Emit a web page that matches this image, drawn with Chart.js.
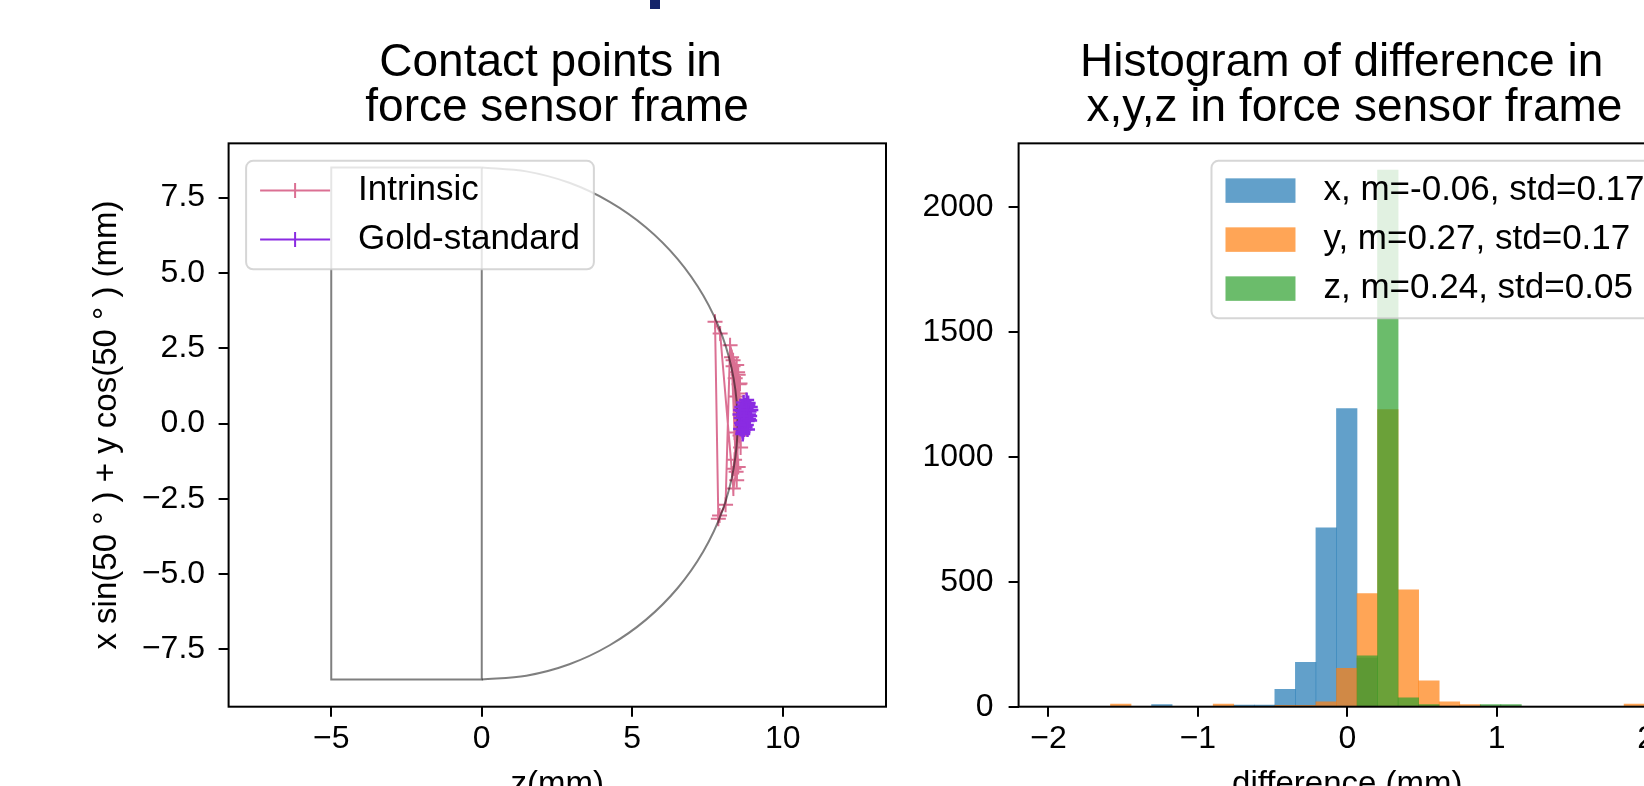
<!DOCTYPE html>
<html>
<head>
<meta charset="utf-8">
<title>Contact points and difference histogram</title>
<script src="https://cdn.jsdelivr.net/npm/chart.js@4.4.1/dist/chart.umd.min.js"></script>
<style>
  html, body { margin: 0; padding: 0; background: #fff; overflow: hidden; }
  #fig { position: relative; width: 1644px; height: 786px; overflow: hidden; background: #fff; }
  #contact { position: absolute; left: 0; top: 0; }
  #hist { position: absolute; left: 900px; top: 0; }
  #tab { position: absolute; left: 650px; top: 0; width: 10px; height: 9px; background: #14246a; }
</style>
</head>
<body>
<div id="fig">
  <canvas id="contact" width="1114" height="830"></canvas>
  <canvas id="hist" width="896" height="830"></canvas>
  <div id="tab"></div>
</div>
<script>
// sensor outline: flat part and the round tip (mm)
const rectZ = [0, -5, -5, 0, 0];
const rectY = [8.5, 8.5, -8.5, -8.5, 8.5];
const arcZ = [0, 1.48, 2.91, 4.25, 5.46, 6.51, 7.36, 7.99, 8.37, 8.5, 8.37, 7.99, 7.36, 6.51, 5.46, 4.25, 2.91, 1.48, 0];
const arcY = [8.5, 8.37, 7.99, 7.36, 6.51, 5.46, 4.25, 2.91, 1.48, 0, -1.48, -2.91, -4.25, -5.46, -6.51, -7.36, -7.99, -8.37, -8.5];

// contact points
const intrinsicZ = [7.86, 7.75, 7.92, 8.36, 8.45, 8.3, 8.55, 8.4, 8.6, 8.35, 8.58, 8.42, 8.62, 8.38, 8.56, 8.47,
  8.5, 8.6, 8.45, 8.63, 8.4, 8.52, 8.35, 8.58, 8.47, 8.52, 8.25, 8.1, 7.9];
const intrinsicY = [-3.16, 3.38, 2.99, -2.16, -1.6, 2.2, 1.3, -1.2, 0.6, 1.9, -0.4, 1.5, 0.1, -1.5, 1.0, -1.88,
  1.7, -0.8, 0.9, 0.35, -0.3, -1.44, 2.1, 1.33, 1.94, 1.62, 2.6, -2.7, -3.05];
const goldZ = [8.72, 8.78, 8.85, 8.8, 8.74, 8.66, 8.62, 8.7, 8.78, 8.88, 8.92, 8.86, 8.76, 8.66, 8.6, 8.68,
  8.75, 8.82, 8.9, 8.94, 8.84, 8.7, 8.64, 8.58, 8.63, 8.71, 8.79, 8.86, 8.8, 8.72, 8.67, 8.9, 8.83, 8.6];
const goldY = [0.35, 0.52, 0.68, 0.78, 0.6, 0.42, 0.18, 0.05, 0.22, 0.4, 0.55, 0.3, 0.12, -0.05, -0.18, -0.28,
  -0.12, 0.08, 0.25, 0.45, 0.62, 0.7, 0.55, 0.3, 0.02, -0.2, -0.05, 0.15, 0.45, 0.25, -0.35, 0.1, -0.2, 0.45];
const contactXTicks = [-5, 0, 5, 10];
const contactYTicks = [-7.5, -5, -2.5, 0, 2.5, 5, 7.5];

// histogram of differences (bin centres, mm)
const binCenters = [-1.51625, -1.37875, -1.24125, -1.10375, -0.96625, -0.82875, -0.69125, -0.55375, -0.41625,
  -0.27875, -0.14125, -0.00375, 0.13375, 0.27125, 0.40875, 0.54625, 0.68375, 0.82125, 0.95875, 1.09625,
  1.23375, 1.37125, 1.50875, 1.64625, 1.78375, 1.92125];
const countX = [0, 0, 8, 0, 0, 0, 6, 6, 70, 178, 717, 1194, 195, 0, 0, 0, 0, 0, 0, 0, 0, 0, 0, 0, 0, 0];
const countY = [10, 0, 0, 0, 0, 10, 0, 0, 5, 5, 20, 154, 453, 1190, 468, 104, 20, 8, 0, 0, 0, 0, 0, 0, 0, 10];
const countZ = [0, 0, 0, 0, 0, 0, 0, 0, 0, 0, 0, 0, 204, 2150, 36, 8, 0, 0, 8, 8, 0, 0, 0, 0, 0, 0];
const histLabels = ['x, m=-0.06, std=0.17', 'y, m=0.27, std=0.17', 'z, m=0.24, std=0.05'];
const histXTicks = [-2, -1, 0, 1, 2];
const histYTicks = [0, 500, 1000, 1500, 2000];

const FONT = "'Liberation Sans', Arial, Helvetica, sans-serif";
Chart.defaults.font.family = FONT;
Chart.defaults.color = '#000';

const minus = v => String(v).replace('-', '\u2212');
const pts = (xs, ys) => xs.map((x, i) => ({x: x, y: ys[i]}));

// black box round the plot area
const frame = {
  id: 'frame',
  afterDatasetsDraw(chart) {
    const {ctx, chartArea: a} = chart;
    ctx.save();
    ctx.strokeStyle = '#000';
    ctx.lineWidth = 2;
    ctx.strokeRect(a.left, a.top, a.right - a.left, a.bottom - a.top);
    ctx.restore();
  }
};

function roundBox(ctx, x, y, w, h, r) {
  ctx.beginPath();
  ctx.moveTo(x + r, y);
  ctx.arcTo(x + w, y, x + w, y + h, r);
  ctx.arcTo(x + w, y + h, x, y + h, r);
  ctx.arcTo(x, y + h, x, y, r);
  ctx.arcTo(x, y, x + w, y, r);
  ctx.closePath();
}

// legend drawn inside the axes, in a rounded half-transparent box
const boxLegend = {
  id: 'boxLegend',
  afterDraw(chart, args, opts) {
    const {ctx, chartArea: a} = chart;
    const items = chart.data.datasets.filter(d => !d.noLegend);
    const em = opts.size;
    ctx.save();
    ctx.font = em + 'px ' + FONT;
    const textW = Math.max(...items.map(d => ctx.measureText(d.label).width));
    const pad = 0.4 * em, handle = 2 * em, gap = 0.8 * em, rowH = 0.9 * em, space = 0.5 * em;
    const w = 2 * pad + handle + gap + textW;
    const h = 2 * pad + items.length * rowH + (items.length - 1) * space;
    const x = opts.corner === 'right' ? a.right - 0.5 * em - w : a.left + 0.5 * em;
    const y = a.top + 0.5 * em;
    roundBox(ctx, x, y, w, h, 0.2 * em);
    ctx.fillStyle = 'rgba(255,255,255,0.8)';
    ctx.fill();
    ctx.strokeStyle = 'rgba(204,204,204,0.8)';
    ctx.lineWidth = 2;
    ctx.stroke();
    items.forEach((d, i) => {
      const cy = y + pad + rowH / 2 + i * (rowH + space);
      const hx = x + pad;
      if (chart.config.type === 'bar') {
        ctx.fillStyle = d.backgroundColor;
        ctx.fillRect(hx, cy - 0.35 * em, handle, 0.7 * em);
      } else {
        const r = d.pointRadius, mx = hx + handle / 2;
        ctx.strokeStyle = d.borderColor;
        ctx.lineWidth = 2;
        ctx.beginPath();
        ctx.moveTo(hx, cy); ctx.lineTo(hx + handle, cy);
        ctx.moveTo(mx, cy - r); ctx.lineTo(mx, cy + r);
        ctx.stroke();
      }
      ctx.fillStyle = '#000';
      ctx.textAlign = 'left';
      ctx.textBaseline = 'middle';
      ctx.fillText(d.label, hx + handle + gap, cy);
    });
    ctx.restore();
  }
};

const tickFont = {size: 32, lineHeight: 1.0};
const tickGrid = {drawOnChartArea: false, tickLength: 10, color: '#000', lineWidth: 2};
const titleFont = {size: 46, weight: 'normal', lineHeight: 0.994};
const titlePad = {top: 40, bottom: 11.9};
const spacer = w => ({position: 'right', afterFit: s => { s.width = w; },
  ticks: {display: false}, grid: {display: false}, border: {display: false}});

new Chart(document.getElementById('contact'), {
  type: 'scatter',
  data: {
    datasets: [{
      label: 'Intrinsic',
      data: pts(intrinsicZ, intrinsicY),
      showLine: true,
      borderColor: '#db7093',
      backgroundColor: '#db7093',
      borderWidth: 2,
      pointStyle: 'cross',
      pointRadius: 7.5,
      pointBorderWidth: 2,
      order: 3
    }, {
      label: 'Gold-standard',
      data: pts(goldZ, goldY),
      showLine: true,
      borderColor: '#8a2be2',
      backgroundColor: '#8a2be2',
      borderWidth: 2,
      pointStyle: 'cross',
      pointRadius: 7.5,
      pointBorderWidth: 2.5,
      order: 0
    }, {
      label: 'outline',
      noLegend: true,
      data: pts(rectZ, rectY),
      showLine: true,
      borderColor: 'rgba(0,0,0,0.5)',
      borderWidth: 2,
      pointRadius: 0,
      order: 1
    }, {
      label: 'tip',
      noLegend: true,
      data: pts(arcZ, arcY),
      showLine: true,
      tension: 0.33,
      borderColor: 'rgba(0,0,0,0.5)',
      borderWidth: 2,
      pointRadius: 0,
      order: 2
    }]
  },
  options: {
    responsive: false,
    animation: false,
    events: [],
    plugins: {
      legend: {display: false},
      tooltip: {enabled: false},
      title: {display: true, text: ['Contact points in ', 'force sensor frame'], color: '#000',
        font: titleFont, padding: titlePad},
      boxLegend: {size: 35, corner: 'left'}
    },
    scales: {
      x: {
        type: 'linear', min: -8.41, max: 13.43,
        afterBuildTicks: s => { s.ticks = contactXTicks.map(v => ({value: v})); },
        afterFit: s => { s.height = 123.3; },
        border: {display: false},
        grid: tickGrid,
        ticks: {font: tickFont, padding: 6, color: '#000', callback: v => minus(v)},
        title: {display: true, text: 'z(mm)', color: '#000', font: {size: 33}, padding: {top: 0, bottom: 25}}
      },
      y: {
        type: 'linear', min: -9.4, max: 9.3,
        afterBuildTicks: s => { s.ticks = contactYTicks.map(v => ({value: v})); },
        afterFit: s => { s.width = 228.6; },
        border: {display: false},
        grid: tickGrid,
        ticks: {font: tickFont, padding: 13.5, color: '#000', callback: v => minus(v.toFixed(1))},
        title: {display: true, text: 'x sin(50 ° ) + y cos(50 ° ) (mm)', color: '#000', font: {size: 33},
          padding: {top: 87.5, bottom: 0}}
      },
      pad: spacer(228)
    }
  },
  plugins: [frame, boxLegend]
});

const histSet = (label, counts, color, order) => ({
  label: label,
  data: pts(binCenters, counts),
  backgroundColor: color,
  borderWidth: 0,
  grouped: false,
  barPercentage: 1,
  categoryPercentage: 1,
  order: order
});

new Chart(document.getElementById('hist'), {
  type: 'bar',
  data: {
    datasets: [
      histSet(histLabels[0], countX, 'rgba(31,119,180,0.7)', 3),
      histSet(histLabels[1], countY, 'rgba(255,127,14,0.7)', 2),
      histSet(histLabels[2], countZ, 'rgba(44,160,44,0.7)', 1)
    ]
  },
  options: {
    responsive: false,
    animation: false,
    events: [],
    plugins: {
      legend: {display: false},
      tooltip: {enabled: false},
      title: {display: true, text: ['Histogram of difference in ', ' x,y,z in force sensor frame'], color: '#000',
        font: titleFont, padding: titlePad},
      boxLegend: {size: 35, corner: 'right'}
    },
    scales: {
      x: {
        type: 'linear', min: -2.2, max: 2.2, offset: false,
        afterBuildTicks: s => { s.ticks = histXTicks.map(v => ({value: v})); },
        afterFit: s => { s.height = 123.3; },
        border: {display: false},
        grid: Object.assign({offset: false}, tickGrid),
        ticks: {font: tickFont, padding: 6, color: '#000', callback: v => minus(v)},
        title: {display: true, text: 'difference (mm)', color: '#000', font: {size: 33}, padding: {top: 0, bottom: 25}}
      },
      y: {
        type: 'linear', min: 0, max: 2257,
        afterBuildTicks: s => { s.ticks = histYTicks.map(v => ({value: v})); },
        afterFit: s => { s.width = 118.6; },
        border: {display: false},
        grid: tickGrid,
        ticks: {font: tickFont, padding: 15, color: '#000', callback: v => String(v)}
      },
      pad: spacer(120)
    }
  },
  plugins: [frame, boxLegend]
});
</script>
</body>
</html>
